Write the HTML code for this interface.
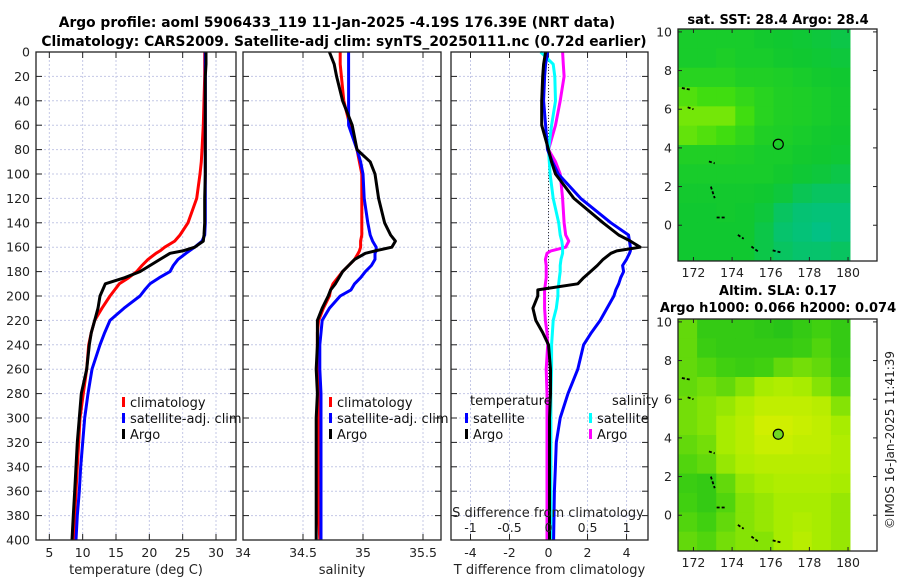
<!DOCTYPE html>
<html><head><meta charset="utf-8"><style>
html,body{margin:0;padding:0;background:#fff}
svg{display:block;font-family:"DejaVu Sans","Liberation Sans",sans-serif}
</style></head><body>
<svg id="fig" width="900" height="580" viewBox="0 0 900 580">
<g id="titles">
<text x="337" y="27" font-size="13.8" font-weight="bold" text-anchor="middle">Argo profile: aoml 5906433_119 11-Jan-2025 -4.19S 176.39E (NRT data)</text>
<text x="344" y="46" font-size="13.8" font-weight="bold" text-anchor="middle">Climatology: CARS2009. Satellite-adj clim: synTS_20250111.nc (0.72d earlier)</text>
<text x="778" y="24" font-size="13" font-weight="bold" text-anchor="middle">sat. SST: 28.4 Argo: 28.4</text>
<text x="778" y="295" font-size="13" font-weight="bold" text-anchor="middle">Altim. SLA: 0.17</text>
<text x="778" y="312" font-size="13" font-weight="bold" text-anchor="middle">Argo h1000: 0.066 h2000: 0.074</text>
<text transform="translate(894,440) rotate(-90)" font-size="12" text-anchor="middle" fill="#222">©IMOS 16-Jan-2025 11:41:39</text>
</g>
<g id="plots"></g>
</svg>
<script>
// ---- depth grid (dbar) ----
const depths = [0,10,20,40,60,80,90,100,120,140,150,155,160,163,165,170,175,180,185,190,195,200,210,220,230,240,260,280,300,320,340,360,380,400];
// temperature (deg C)
const tempClim = [28.3,28.3,28.3,28.2,28.1,27.9,27.8,27.6,27.1,25.8,24.6,23.8,22.3,21.6,21.0,19.8,18.9,18.1,16.9,15.5,14.8,14.1,12.9,11.8,11.3,10.9,10.6,10.1,9.6,9.4,9.2,9.0,8.8,8.6];
const tempSat  = [28.4,28.4,28.4,28.4,28.4,28.4,28.4,28.4,28.4,28.4,28.3,27.9,26.8,26.0,25.5,24.3,23.6,23.1,21.5,20.1,19.3,18.6,16.2,14.1,13.3,12.6,11.4,10.8,10.3,10.0,9.7,9.5,9.2,9.0];
const tempArgo = [28.5,28.5,28.4,28.4,28.4,28.4,28.4,28.4,28.3,28.3,28.2,28.1,26.8,25.0,23.1,21.6,20.1,18.6,16.3,13.4,13.0,12.6,12.3,11.8,11.3,11.0,10.6,9.8,9.5,9.2,9.0,8.8,8.6,8.4];
// salinity
const salClim = [34.81,34.81,34.82,34.84,34.89,34.95,34.97,34.99,34.99,34.99,34.99,34.98,34.98,34.97,34.96,34.93,34.88,34.83,34.79,34.75,34.73,34.72,34.67,34.63,34.62,34.62,34.62,34.63,34.63,34.63,34.63,34.63,34.63,34.64];
const salSat  = [34.88,34.88,34.88,34.88,34.88,34.95,34.98,35.0,35.01,35.04,35.06,35.08,35.11,35.11,35.1,35.1,35.07,35.02,34.98,34.93,34.9,34.81,34.72,34.66,34.65,34.64,34.64,34.65,34.65,34.65,34.65,34.65,34.65,34.65];
const salArgo = [34.72,34.76,34.78,34.83,34.91,34.95,35.06,35.1,35.13,35.18,35.23,35.27,35.24,35.1,35.02,34.93,34.88,34.83,34.8,34.77,34.73,34.71,34.66,34.62,34.62,34.62,34.61,34.62,34.61,34.61,34.61,34.61,34.61,34.61];
// differences from climatology
const dTArgo = [-0.15,-0.25,-0.3,-0.35,-0.35,0.0,0.15,0.36,1.3,2.8,3.6,4.2,4.7,3.5,3.2,2.8,2.5,2.15,1.8,1.5,-0.55,-0.55,-0.8,-0.65,-0.3,0.0,0.1,0.1,0.05,0.05,0.05,0.05,0.05,0.05];
const dTSat  = [-0.05,-0.15,-0.2,-0.25,-0.15,-0.05,0.2,0.5,1.65,3.2,4.1,4.15,4.2,4.2,4.15,4.0,3.8,3.85,3.7,3.6,3.45,3.35,3.0,2.65,2.2,1.8,1.5,1.0,0.6,0.4,0.35,0.3,0.28,0.26];
const dSSat  = [-0.1,0.06,0.08,0.09,0.04,0.0,0.01,0.02,0.06,0.13,0.15,0.17,0.18,0.18,0.18,0.16,0.15,0.15,0.14,0.13,0.12,0.12,0.1,0.06,0.05,0.04,0.04,0.03,0.03,0.03,0.03,0.03,0.03,0.03];
const dSArgo = [0.18,0.19,0.2,0.15,0.09,0.0,0.09,0.15,0.18,0.2,0.22,0.26,0.22,0.03,-0.02,-0.04,-0.03,-0.03,-0.03,-0.04,-0.05,-0.05,-0.05,-0.04,-0.02,-0.01,-0.03,-0.02,-0.02,-0.02,-0.02,-0.02,-0.02,-0.02];
// tick labels
const depthTicks = [0,20,40,60,80,100,120,140,160,180,200,220,240,260,280,300,320,340,360,380,400];
const tempTicks = [5,10,15,20,25,30];
const salTicks = [34,34.5,35,35.5];
const dTTicks = [-4,-2,0,2,4];
const dSTicks = [-1,-0.5,0,0.5,1];
const lonTicks = [172,174,176,178,180];
const latTicks = [0,2,4,6,8,10];
// maps: values 0..1 per cell, rows from lat 10.15 downward (1 deg), 9 lon columns
const sstGrid = [
[0.45,0.45,0.45,0.45,0.42,0.4,0.38,0.35,0.3],
[0.45,0.45,0.48,0.45,0.45,0.42,0.4,0.38,0.35],
[0.55,0.55,0.55,0.5,0.5,0.48,0.45,0.42,0.4],
[0.75,0.7,0.7,0.62,0.55,0.5,0.48,0.45,0.42],
[0.85,0.85,0.85,0.7,0.55,0.5,0.48,0.45,0.42],
[0.8,0.75,0.7,0.6,0.5,0.48,0.45,0.42,0.4],
[0.5,0.5,0.5,0.48,0.45,0.45,0.42,0.4,0.38],
[0.45,0.45,0.45,0.45,0.45,0.42,0.38,0.35,0.3],
[0.42,0.42,0.42,0.42,0.4,0.35,0.25,0.2,0.2],
[0.4,0.4,0.42,0.4,0.35,0.2,0.12,0.1,0.1],
[0.4,0.4,0.4,0.4,0.3,0.15,0.1,0.05,0.1],
[0.4,0.4,0.4,0.4,0.3,0.2,0.15,0.15,0.2]];
const slaGrid = [
[0.5,0.3,0.3,0.3,0.25,0.2,0.3,0.4,0.3],
[0.5,0.35,0.3,0.3,0.3,0.3,0.35,0.45,0.3],
[0.5,0.45,0.4,0.35,0.4,0.5,0.55,0.5,0.35],
[0.5,0.55,0.5,0.6,0.7,0.75,0.7,0.6,0.45],
[0.55,0.6,0.65,0.75,0.85,0.85,0.85,0.8,0.6],
[0.55,0.6,0.7,0.8,0.95,0.95,0.9,0.85,0.7],
[0.5,0.55,0.7,0.8,0.9,0.9,0.85,0.85,0.75],
[0.45,0.5,0.65,0.75,0.8,0.8,0.8,0.8,0.75],
[0.35,0.3,0.5,0.65,0.7,0.75,0.75,0.75,0.7],
[0.4,0.3,0.45,0.6,0.65,0.7,0.7,0.7,0.65],
[0.45,0.4,0.5,0.6,0.65,0.7,0.75,0.7,0.65],
[0.5,0.45,0.55,0.6,0.6,0.7,0.8,0.7,0.65]];
const argoLon = 176.39, argoLat = 4.19;

const NS = "http://www.w3.org/2000/svg";
const root = document.getElementById('plots');
function mk(tag, attrs, parent){const e=document.createElementNS(NS,tag);for(const k in attrs)e.setAttribute(k,attrs[k]);(parent||root).appendChild(e);return e;}
const yTop=52, yBot=540;
const yD = d => yTop + (d/400)*(yBot-yTop);
function lin(d0,d1,r0,r1){return v=>r0+(v-d0)/(d1-d0)*(r1-r0);}

const panels = [
 {name:'temperature-panel', x0:36, x1:236, sc:lin(3,33,36,236)},
 {name:'salinity-panel', x0:243, x1:441, sc:lin(34,35.65,243,441)},
 {name:'difference-panel', x0:451, x1:648, sc:lin(-5,5.1,451,648)}
];
const sS = lin(-1.25,1.275,451,648);

panels.forEach((p,i)=>{
  const g = mk('g',{});
  
  
  const ticks = i==0?tempTicks:(i==1?salTicks:dTTicks);
  depthTicks.forEach(d=>{ const l=mk('line',{x1:p.x0,x2:p.x1,y1:yD(d),y2:yD(d),stroke:'#c4c8e6','stroke-width':1,'stroke-dasharray':'2,2'},g);
     
    mk('line',{x1:p.x0,x2:p.x0+6,y1:yD(d),y2:yD(d),stroke:'#222'},g);
    mk('line',{x1:p.x1-6,x2:p.x1,y1:yD(d),y2:yD(d),stroke:'#222'},g);
  });
  ticks.forEach(t=>{ const x=p.sc(t); const l=mk('line',{x1:x,x2:x,y1:yTop,y2:yBot,stroke:'#c4c8e6','stroke-width':1,'stroke-dasharray':'2,2'},g);
     
    mk('line',{x1:x,x2:x,y1:yBot,y2:yBot-6,stroke:'#222'},g);
    mk('line',{x1:x,x2:x,y1:yTop,y2:yTop+6,stroke:'#222'},g);
    const tx=mk('text',{x:x,y:557,'font-size':12.5,'text-anchor':'middle',fill:'#222'},g); tx.textContent=String(t);
     
  });
  if(i==0){ depthTicks.forEach(d=>{ const tx=mk('text',{x:30,y:yD(d)+4.5,'font-size':12.5,'text-anchor':'end',fill:'#222'},g); tx.textContent=String(d);
      }); }
  const labels=['temperature (deg C)','salinity','T difference from climatology'];
  const xl=mk('text',{x:(p.x0+p.x1)/2,y:574,'font-size':13,'text-anchor':'middle',fill:'#222'},g); xl.textContent=labels[i];
   
});

const zl=mk('line',{x1:panels[2].sc(0),x2:panels[2].sc(0),y1:yTop,y2:yBot,stroke:'#333','stroke-width':1,'stroke-dasharray':'1,2'});
 

function series(vals, sc, color, name){
  const pts = vals.map((v,k)=>sc(v).toFixed(1)+','+yD(depths[k]).toFixed(1)).join(' ');
  const pl = mk('polyline',{points:pts,fill:'none',stroke:color,'stroke-width':3,'stroke-linejoin':'round'});
  
  
}
series(tempClim,panels[0].sc,'#ff0000','temp-climatology-line');
series(tempSat,panels[0].sc,'#0000ff','temp-satellite-line');
series(tempArgo,panels[0].sc,'#000000','temp-argo-line');
series(salClim,panels[1].sc,'#ff0000','sal-climatology-line');
series(salSat,panels[1].sc,'#0000ff','sal-satellite-line');
series(salArgo,panels[1].sc,'#000000','sal-argo-line');
series(dSArgo,sS,'#ff00ff','dS-argo-line');
series(dSSat,sS,'#00ffff','dS-satellite-line');
series(dTSat,panels[2].sc,'#0000ff','dT-satellite-line');
series(dTArgo,panels[2].sc,'#000000','dT-argo-line');

dSTicks.forEach(t=>{ const tx=mk('text',{x:sS(t),y:532,'font-size':12.5,'text-anchor':'middle',fill:'#222'}); tx.textContent=String(t);
    });
const st=mk('text',{x:548,y:517,'font-size':13,'text-anchor':'middle',fill:'#222'}); st.textContent='S difference from climatology';
 

function legend(x,y,color,label,name){
  const r=mk('rect',{x:x,y:y-5,width:3,height:10,fill:color});
   
  const t=mk('text',{x:x+8,y:y+5,'font-size':13,fill:'#111'}); t.textContent=label;
   
}
[[0,122],[1,329]].forEach(([i,x])=>{
  legend(x,402,'#ff0000','climatology','legend-climatology');
  legend(x,418,'#0000ff','satellite-adj. clim','legend-satellite');
  legend(x,434,'#000000','Argo','legend-argo');
});
const lt1=mk('text',{x:470,y:405,'font-size':13,fill:'#111'}); lt1.textContent='temperature';
 
const lt2=mk('text',{x:612,y:405,'font-size':13,fill:'#111'}); lt2.textContent='salinity';
 
legend(465,418,'#0000ff','satellite','legend-t-satellite');
legend(465,434,'#000000','Argo','legend-t-argo');
legend(589,418,'#00ffff','satellite','legend-s-satellite');
legend(589,434,'#ff00ff','Argo','legend-s-argo');

panels.forEach(p=>{ const r=mk('rect',{x:p.x0,y:yTop,width:p.x1-p.x0,height:yBot-yTop,fill:'none',stroke:'#222','stroke-width':1.3});
    });

function hex(c){return [parseInt(c.slice(1,3),16),parseInt(c.slice(3,5),16),parseInt(c.slice(5,7),16)];}
function cmap(stops,v){ for(let k=1;k<stops.length;k++){ if(v<=stops[k][0]||k==stops.length-1){ const a=stops[k-1],b=stops[k]; const f=Math.max(0,Math.min(1,(v-a[0])/(b[0]-a[0]))); const ca=hex(a[1]),cb=hex(b[1]); return 'rgb('+ca.map((c,j)=>Math.round(c+(cb[j]-c)*f)).join(',')+')'; } } }
const sstStops=[[0,'#00c090'],[0.4,'#10c830'],[0.7,'#40dd10'],[1,'#a8f000']];
const slaStops=[[0,'#10b820'],[0.4,'#40d010'],[0.7,'#a8ec00'],[1,'#d8f000']];
function drawMap(top,bottom,grid,stops,name){
  const g=mk('g',{});
  
  
  const x0=678,x1=877;
  const lonS=lin(171.2,181.5,x0,x1);
  const latS=lin(10.15,-1.85,top,bottom);
  grid.forEach((row,r)=>row.forEach((v,c)=>{
    const lo=171.2+c*0.989, la=10.15-r;
    const rc=mk('rect',{x:lonS(lo),y:latS(la),width:lonS(lo+0.989)-lonS(lo)+0.5,height:latS(la-1)-latS(la)+0.5,fill:cmap(stops,v)},g);
     
  }));
  [[171.4,7.1,171.9,7.0],[171.7,6.1,172.0,6.0],[172.8,3.3,173.1,3.2],[172.9,2.0,173.1,1.4],[173.2,0.4,173.7,0.4],[174.3,-0.5,174.6,-0.7],[175.0,-1.1,175.4,-1.4],[176.1,-1.3,176.5,-1.4]].forEach(s=>{
    const l=mk('line',{x1:lonS(s[0]),y1:latS(s[1]),x2:lonS(s[2]),y2:latS(s[3]),stroke:'#000','stroke-width':1.8,'stroke-dasharray':'3,2'},g);
     
  });
  const c=mk('circle',{cx:lonS(argoLon),cy:latS(argoLat),r:5,fill:name=='sla-map'?'#70d820':'none',stroke:'#000','stroke-width':1.2},g);
   
  const fr=mk('rect',{x:x0,y:top,width:x1-x0,height:bottom-top,fill:'none',stroke:'#222','stroke-width':1.3},g);
   
  lonTicks.forEach(t=>{ const x=lonS(t);
    mk('line',{x1:x,x2:x,y1:bottom,y2:bottom-4,stroke:'#222'},g);
    mk('line',{x1:x,x2:x,y1:top,y2:top+4,stroke:'#222'},g);
    const tx=mk('text',{x:x,y:bottom+16,'font-size':12.5,'text-anchor':'middle',fill:'#222'},g); tx.textContent=String(t);
      });
  latTicks.forEach(t=>{ const y=latS(t);
    mk('line',{x1:x0,x2:x0+4,y1:y,y2:y,stroke:'#222'},g);
    mk('line',{x1:x1-4,x2:x1,y1:y,y2:y,stroke:'#222'},g);
    const tx=mk('text',{x:672,y:y+4.5,'font-size':12.5,'text-anchor':'end',fill:'#222'},g); tx.textContent=String(t);
      });
}
drawMap(29,261,sstGrid,sstStops,'sst-map');
drawMap(319,551,slaGrid,slaStops,'sla-map');
</script>
</body></html>
